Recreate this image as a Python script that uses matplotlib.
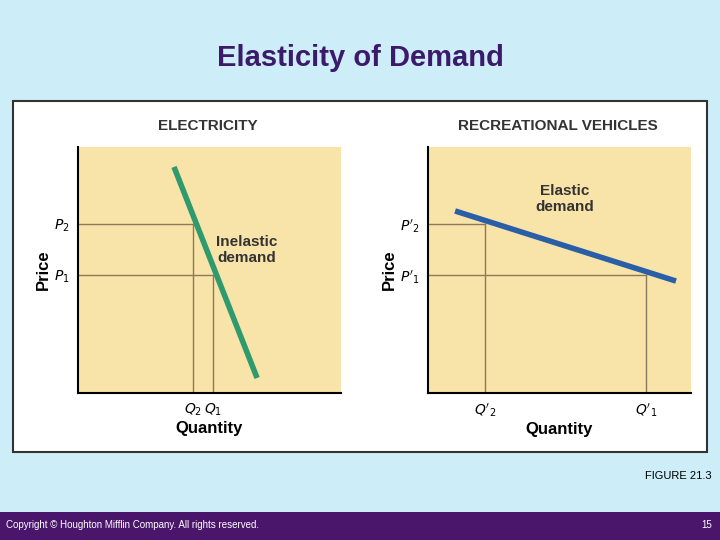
import matplotlib.pyplot as plt
from matplotlib.patches import Rectangle

plt.rcParams['font.family'] = ['Liberation Sans', 'DejaVu Sans']

W, H = 720, 540

# data (axes units 0..100)
elec_line_x = [36.5, 68.1]
elec_line_y = [91.9, 6.1]
elec_p = [68.7, 48.0]          # P2, P1
elec_q = [43.7, 51.3]          # Q2, Q1
rv_line_x = [10.3, 94.3]
rv_line_y = [74.0, 45.5]
rv_p = [68.7, 48.0]            # P'2, P'1
rv_q = [21.7, 82.9]            # Q'2, Q'1

fig = plt.figure(figsize=(7.2, 5.4), dpi=100)
fig.patch.set_facecolor('#cdeef8')

def px(x, y, w, h):
    return [x / W, 1 - (y + h) / H, w / W, h / H]

# white panel box and footer bar (behind the axes)
fig.patches.append(Rectangle((13 / W, 1 - 452 / H), 694 / W, 351 / H, transform=fig.transFigure,
                             facecolor='white', edgecolor='#333333', lw=1.5, zorder=-2))
fig.patches.append(Rectangle((0, 0), 1, 28 / H, transform=fig.transFigure,
                             facecolor='#4a166b', edgecolor='none', zorder=-2))

fig.text(360 / W, 1 - 58 / H, 'Elasticity of Demand', ha='center', va='center',
         fontsize=21, fontweight='bold', color='#3b1a6b')
fig.text(6 / W, 1 - 525 / H, 'Copyright © Houghton Mifflin Company. All rights reserved.',
         fontsize=7, color='white', va='center')
fig.text(712 / W, 1 - 525 / H, '15', fontsize=7, color='white', va='center', ha='right')
fig.text(712 / W, 1 - 476 / H, 'FIGURE 21.3', fontsize=8, ha='right', va='center')

def panel(x0, title, tx, lx, ly, ps, qs, plabels, qlabels, color, label, lpos):
    ax = fig.add_axes(px(x0, 147, 263, 246))
    ax.set_facecolor('#f8e4a8')
    ax.set_xlim(0, 100)
    ax.set_ylim(0, 100)
    for s in ['top', 'right']:
        ax.spines[s].set_visible(False)
    for s in ['left', 'bottom']:
        ax.spines[s].set_linewidth(1.5)
    ax.set_xticks(qs)
    ax.set_xticklabels(qlabels, fontsize=10, fontstyle='italic')
    ax.set_yticks(ps)
    ax.set_yticklabels(plabels, fontsize=10, fontstyle='italic')
    ax.tick_params(length=0, pad=6)
    for p, q in zip(ps, qs):
        ax.plot([0, q], [p, p], color='#8a7a5a', lw=1)
        ax.plot([q, q], [0, p], color='#8a7a5a', lw=1)
    ax.plot(lx, ly, color=color, lw=4, solid_capstyle='butt')
    ax.text(lpos[0], lpos[1], label, ha='center', va='center', fontsize=11, fontweight='bold', color='#333333')
    ax.set_xlabel('Quantity', fontsize=12, fontweight='bold', labelpad=2)
    ax.set_ylabel('Price', fontsize=12, fontweight='bold', labelpad=2)
    fig.text(tx / W, 1 - 126 / H, title, ha='center', va='center', fontsize=11, fontweight='bold', color='#333333')
    return ax

panel(78, 'ELECTRICITY', 208, elec_line_x, elec_line_y, elec_p, elec_q,
      ['$P_2$', '$P_1$'], ['$Q_2$', '$Q_1$'], '#2e9a6e', 'Inelastic\ndemand', (64, 58))
panel(428, 'RECREATIONAL VEHICLES', 558, rv_line_x, rv_line_y, rv_p, rv_q,
      ["$P'_2$", "$P'_1$"], ["$Q'_2$", "$Q'_1$"], '#2a5fa8', 'Elastic\ndemand', (52, 79))

fig.savefig('out.png', dpi=100)
